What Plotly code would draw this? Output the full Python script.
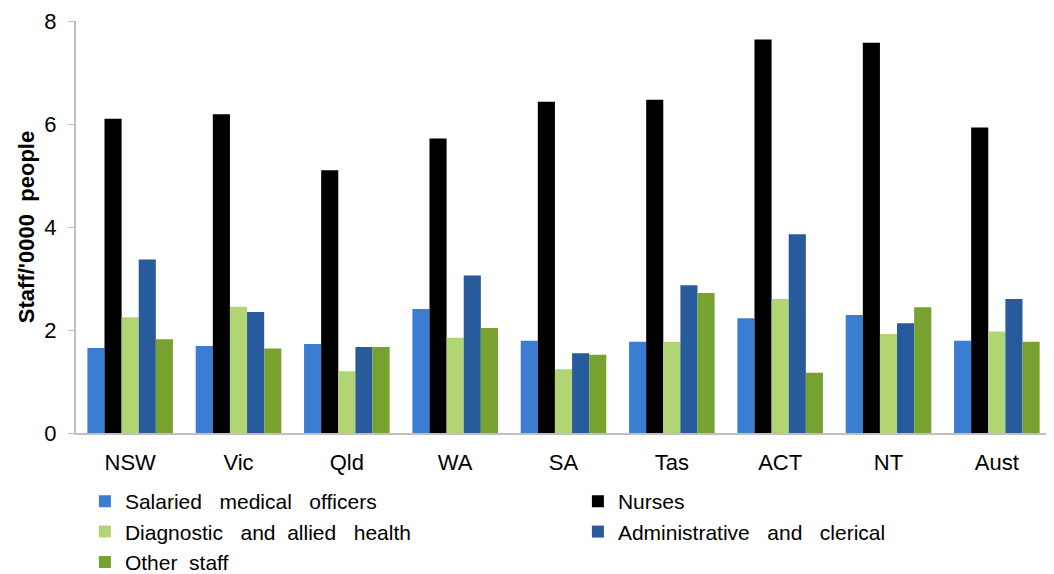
import plotly.graph_objects as go

categories = ["NSW", "Vic", "Qld", "WA", "SA", "Tas", "ACT", "NT", "Aust"]
series_names = ["Salaried\u00a0\u00a0 medical\u00a0\u00a0 officers", "Nurses",
                "Diagnostic\u00a0\u00a0 and\u00a0 allied\u00a0\u00a0 health",
                "Administrative\u00a0\u00a0 and\u00a0\u00a0 clerical",
                "Other\u00a0 staff"]
salaried = [1.65, 1.69, 1.73, 2.41, 1.79, 1.77, 2.23, 2.29, 1.79]
nurses = [6.10, 6.19, 5.10, 5.72, 6.43, 6.47, 7.64, 7.58, 5.93]
diagnostic = [2.25, 2.45, 1.20, 1.85, 1.24, 1.77, 2.60, 1.92, 1.97]
admin = [3.37, 2.35, 1.67, 3.06, 1.55, 2.87, 3.86, 2.13, 2.60]
other = [1.82, 1.64, 1.67, 2.04, 1.52, 2.72, 1.17, 2.44, 1.77]
y_ticks = [0, 2, 4, 6, 8]

colors = ["#3b7dd3", "#000000", "#b2d573", "#275b9b", "#77a230"]
values = [salaried, nurses, diagnostic, admin, other]

fig = go.Figure()
for name, vals, col in zip(series_names, values, colors):
    fig.add_trace(go.Bar(x=categories, y=vals, name=name,
                         marker=dict(color=col, line=dict(width=0))))

font_family = "Arial, Liberation Sans, sans-serif"
fig.update_layout(
    width=1046, height=566,
    margin=dict(l=68, r=3, t=13, b=141, autoexpand=False),
    paper_bgcolor="white", plot_bgcolor="white",
    barmode="group", bargap=0.21, bargroupgap=0,
    font=dict(family=font_family, color="black"),
    showlegend=True,
    legend=dict(orientation="h", xref="paper", yref="paper",
                x=-0.0001, xanchor="left", y=-0.0950, yanchor="top",
                entrywidth=448, entrywidthmode="pixels",
                borderwidth=9, bordercolor="rgba(255,255,255,0)", bgcolor="rgba(255,255,255,0)",
                font=dict(size=21, family=font_family), itemwidth=30,
                tracegroupgap=0, traceorder="normal"),
    xaxis=dict(showline=True, linecolor="#bfbfbf", linewidth=2,
               tickfont=dict(size=22), ticks="", showgrid=False,
               ticklabelstandoff=9),
    yaxis=dict(range=[0, 8], tickvals=y_ticks, showline=True, linecolor="#bfbfbf",
               linewidth=2, ticks="outside", ticklen=6, tickcolor="#bfbfbf",
               tickfont=dict(size=22), showgrid=False, zeroline=False,
               ticklabelstandoff=7,
               title=dict(text="<b>Staff/'0000\u00a0 people</b>", font=dict(size=22), standoff=4)),
)
fig.write_html("out.html")
